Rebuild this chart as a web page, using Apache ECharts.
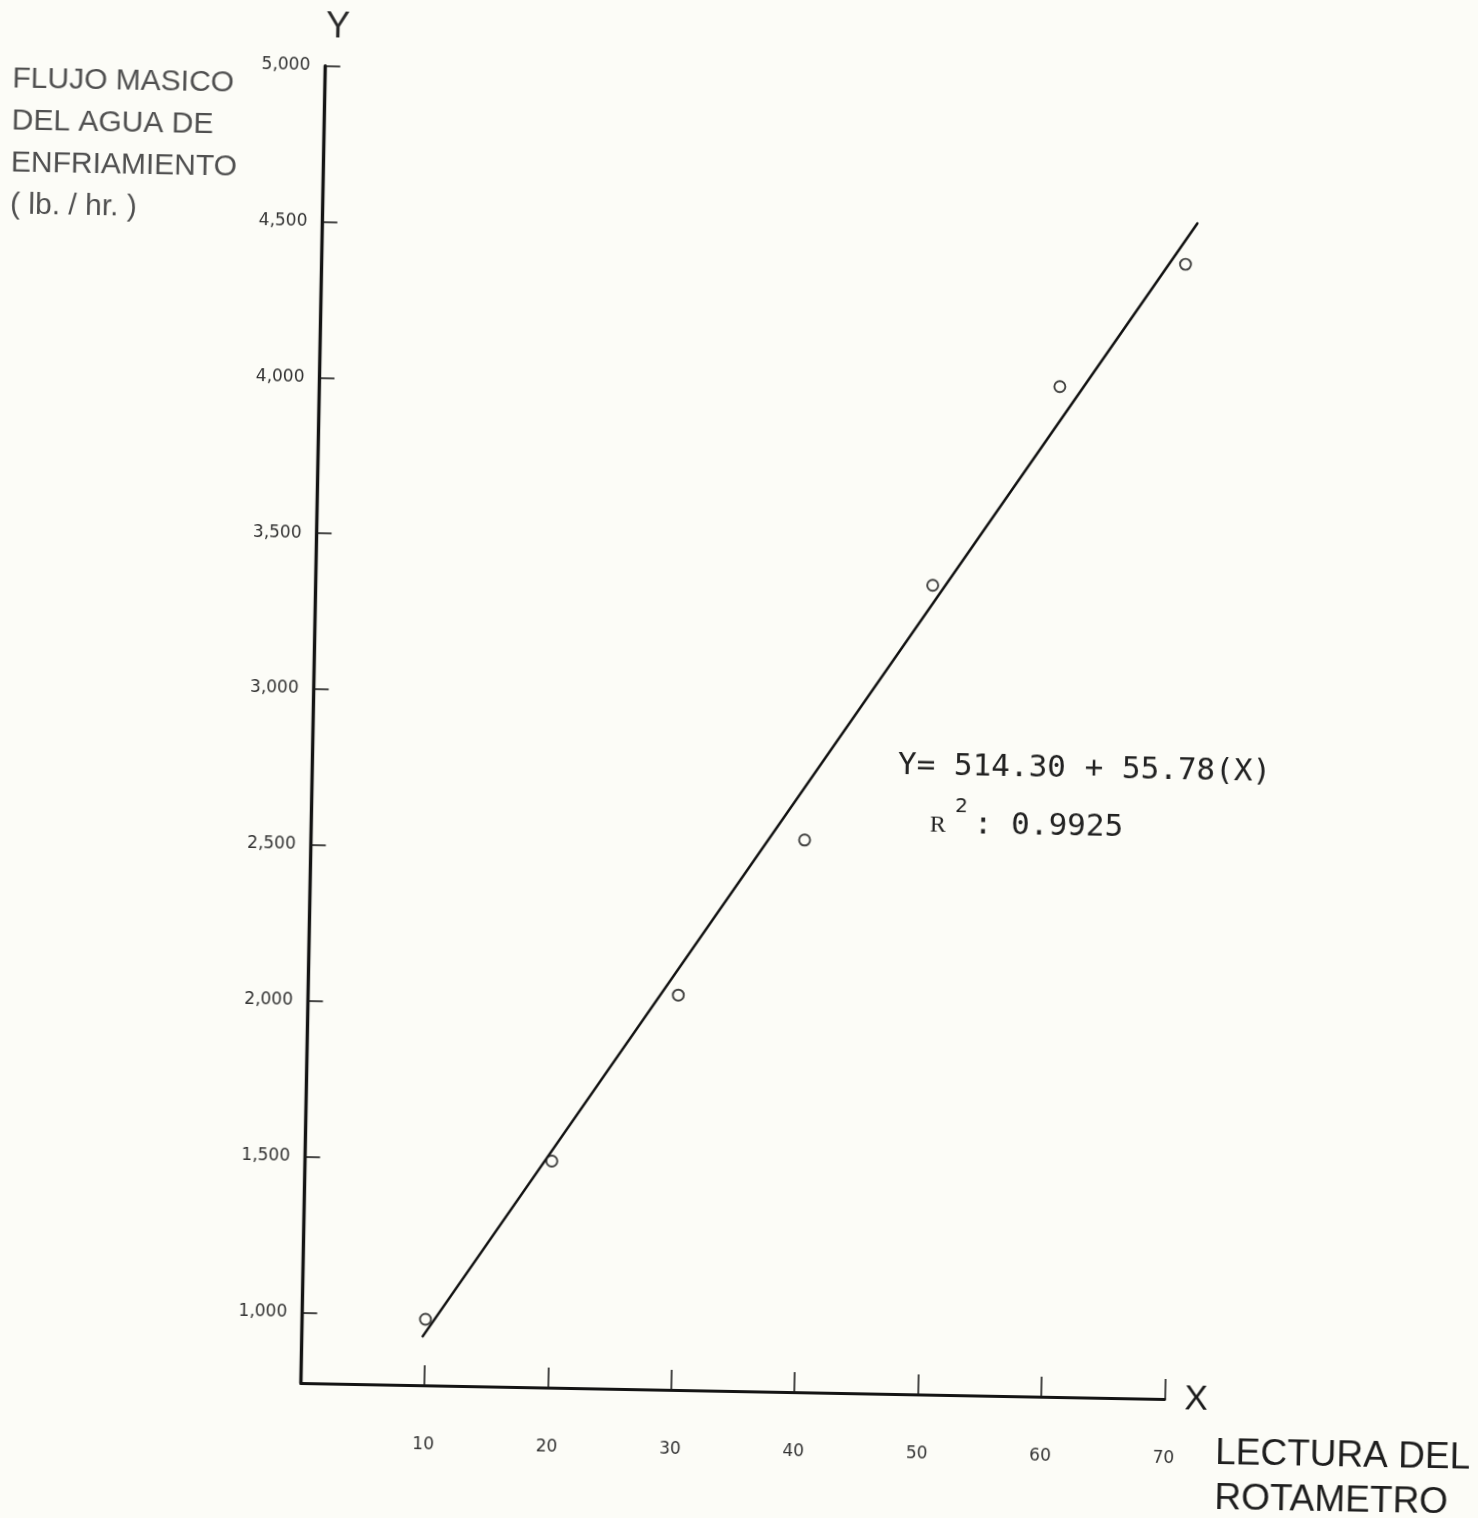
<!DOCTYPE html>
<html>
<head>
<meta charset="utf-8">
<script src="https://cdn.jsdelivr.net/npm/echarts@6/dist/echarts.min.js"></script>
<style>
html,body{margin:0;padding:0;background:#fcfcf7;overflow:hidden;width:1478px;height:1518px;}
/* the scanned sheet is turned about one degree clockwise */
#chart{position:absolute;left:-50px;top:-50px;width:1578px;height:1618px;
  transform:rotate(1.06deg);transform-origin:789px 809px;}
</style>
</head>
<body>
<div id="chart"></div>
<script>
// Data
const lecturas = [10, 20, 30, 40, 50, 60, 70];
const flujo = [985, 1500, 2040, 2545, 3370, 4015, 4415];
const fitLineX = [9.8, 70.9];
const fitLineY = [930, 4547];
const yTickValues = [1000, 1500, 2000, 2500, 3000, 3500, 4000, 4500, 5000];
const xTickValues = [10, 20, 30, 40, 50, 60, 70];
const yTitleLines = ['FLUJO MASICO', 'DEL AGUA DE', 'ENFRIAMIENTO', '( lb. / hr. )'];
const xTitleLines = ['LECTURA DEL', 'ROTAMETRO'];
const equationText = 'Y= 514.30 + 55.78(X)';
const r2Letter = 'R';
const r2Exp = '2';
const r2Value = ': 0.9925';

const OFF = 50; // container margin around the visible page
const BG = '#fcfcf7';
const chart = echarts.init(document.getElementById('chart'));

const pts = lecturas.map((x, i) => [x, flujo[i]]);
// one segment [x1, y1, x2, y2] for the hand-drawn fitted line
const fitSegment = [[fitLineX[0], fitLineY[0], fitLineX[1], fitLineY[1]]];

chart.setOption({
  backgroundColor: BG,
  animation: false,
  grid: { left: 312.5 + OFF, right: 301.7 + OFF, top: 73.8 + OFF, bottom: 127 + OFF },
  xAxis: {
    type: 'value', min: 0, max: 70,
    name: 'X', nameLocation: 'end', nameGap: 20,
    nameTextStyle: { fontFamily: 'Liberation Sans', fontSize: 35, color: '#1a1a1a', verticalAlign: 'middle', padding: [0, 0, 8, 0] },
    axisLine: { show: true, lineStyle: { color: '#141414', width: 3 } },
    axisTick: { show: true, inside: true, length: 20, customValues: xTickValues, lineStyle: { color: '#1a1a1a', width: 1.6 } },
    axisLabel: { show: true, margin: 51, customValues: xTickValues, fontFamily: 'DejaVu Sans', fontSize: 17, color: '#333' },
    splitLine: { show: false }
  },
  yAxis: {
    type: 'value', min: 773, max: 5000,
    name: 'Y', nameLocation: 'end', nameGap: 21,
    nameTextStyle: { fontFamily: 'Liberation Sans', fontSize: 36, color: '#2a2a2a', padding: [0, 0, 0, 24] },
    axisLine: { show: true, lineStyle: { color: '#141414', width: 3.4 } },
    axisTick: { show: true, inside: true, length: 15, customValues: yTickValues, lineStyle: { color: '#1a1a1a', width: 1.6 } },
    axisLabel: {
      show: true, margin: 15, customValues: yTickValues,
      fontFamily: 'DejaVu Sans', fontSize: 17, color: '#333',
      formatter: v => v.toLocaleString('en-US')
    },
    splitLine: { show: false }
  },
  series: [
    {
      type: 'custom', clip: false, z: 2,
      data: fitSegment,
      encode: { x: [0, 2], y: [1, 3] },
      renderItem: function (params, api) {
        const a = api.coord([api.value(0), api.value(1)]);
        const b = api.coord([api.value(2), api.value(3)]);
        return {
          type: 'line',
          shape: { x1: a[0], y1: a[1], x2: b[0], y2: b[1] },
          style: { stroke: '#111', lineWidth: 2.5, lineCap: 'round' }
        };
      }
    },
    {
      type: 'scatter', data: pts, symbol: 'circle', symbolSize: 11, clip: false,
      itemStyle: { color: BG, borderColor: '#111', borderWidth: 1.9 }, z: 3
    }
  ],
  graphic: [
    {
      type: 'text', left: 0 + OFF, top: 72 + OFF,
      style: {
        text: yTitleLines.join('\n'), fontFamily: 'Liberation Sans', fontSize: 30,
        lineHeight: 42, fill: '#505050'
      }
    },
    {
      type: 'text', left: 1228 + OFF, top: 1422 + OFF,
      style: {
        text: xTitleLines.join('\n'), fontFamily: 'Liberation Sans', fontSize: 37,
        lineHeight: 45, fill: '#1e1e1e'
      }
    },
    {
      type: 'text',
      style: { text: equationText, x: 898 + OFF, y: 762.6 + OFF, verticalAlign: 'middle',
        fontFamily: 'DejaVu Sans Mono', fontSize: 31, fill: '#222' }
    },
    {
      type: 'text',
      style: { text: r2Letter, x: 931 + OFF, y: 822 + OFF, verticalAlign: 'middle',
        fontFamily: 'Liberation Serif', fontSize: 24, fill: '#222' }
    },
    {
      type: 'text',
      style: { text: r2Exp, x: 956 + OFF, y: 802.4 + OFF, verticalAlign: 'middle',
        fontFamily: 'DejaVu Sans', fontSize: 20, fill: '#222' }
    },
    {
      type: 'text',
      style: { text: r2Value, x: 975 + OFF, y: 820.6 + OFF, verticalAlign: 'middle',
        fontFamily: 'DejaVu Sans Mono', fontSize: 31, fill: '#222' }
    }
  ]
});
</script>
</body>
</html>
